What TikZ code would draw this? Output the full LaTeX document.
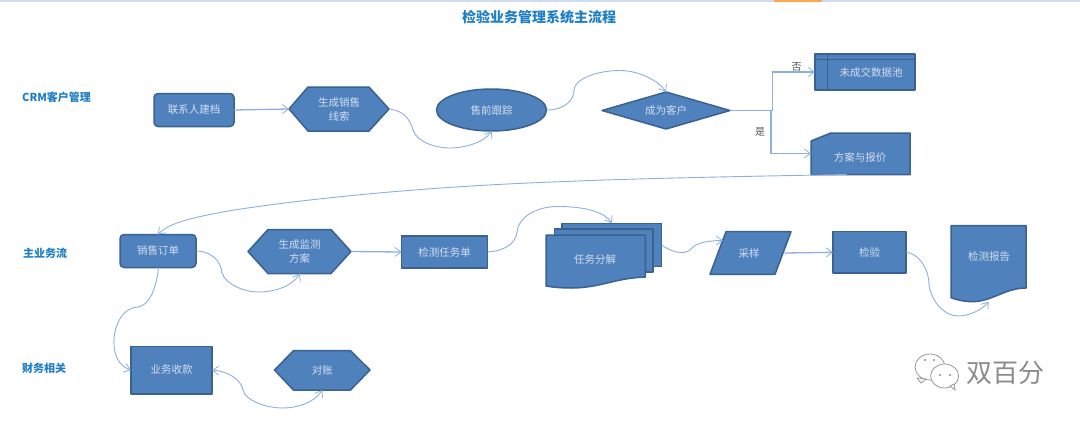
\documentclass[tikz,border=0pt]{standalone}
\usepackage{fontspec}
\setmainfont{Noto Sans CJK SC}
\usetikzlibrary{arrows.meta,shapes.geometric,calc}
\definecolor{shapefill}{HTML}{4F81BD}
\definecolor{shapeline}{HTML}{3A6291}
\definecolor{conn}{HTML}{8DB0DC}
\definecolor{headcol}{HTML}{1F7FC6}
\definecolor{labtxt}{HTML}{D3DEEE}
\definecolor{strip}{HTML}{CFDCEC}
\tikzset{
  fillshape/.style={fill=shapefill,draw=shapeline,line width=1.5pt,line join=round},
  txt/.style={text=labtxt,font=\fontsize{10.5}{14}\selectfont,align=center,inner sep=0pt,outer sep=0pt},
  box/.style={txt,fillshape,rectangle},
  holder/.style={rectangle,inner sep=0pt,outer sep=0pt},
  conline/.style={draw=conn,line width=0.9pt,-{Straight Barb[length=6pt,width=9pt,line width=0.8pt]}},
  elbow/.style={conline,line width=1.2pt},
  straightcon/.style={conline,line width=1.3pt},
  section/.style={text=headcol,font=\bfseries\fontsize{11}{14}\selectfont,inner sep=0pt,anchor=west},
  note/.style={text=black!65,font=\fontsize{10}{12}\selectfont,inner sep=0pt},
  bubble/.style={fill=white,draw=black!40,line width=0.8pt},
  eye/.style={fill=black!45,circle,inner sep=0pt,minimum size=2.4pt}
}
\begin{document}
\begin{tikzpicture}[x=1pt,y=-1pt]
\useasboundingbox (0,0) rectangle (1080,421);
\fill[white] (0,0) rectangle (1080,421);
% top strip
\fill[strip] (0,0) rectangle (1080,1.5);
\fill[orange!70] (774,0) rectangle (822,1.5);
% titles
\node[text=headcol,font=\bfseries\fontsize{14}{16}\selectfont,inner sep=0pt] (title) at (539,17) {检验业务管理系统主流程};
\node[section] (s1) at (22,97) {CRM客户管理};
\node[section] (s2) at (23,253) {主业务流};
\node[section] (s3) at (22,368) {财务相关};
% row 1
\node[box,rounded corners=4pt,minimum width=80pt,minimum height=33pt] (lianxi) at (194,110) {联系人建档};
\path[fillshape] (289,109)--(308,87)--(369,87)--(389,109)--(369,131)--(308,131)--cycle;
\node[holder,txt,minimum width=100pt,minimum height=44pt] (xiansuo) at (339,109) {生成销售\\线索};
\node[box,ellipse,minimum width=110pt,minimum height=42pt] (genzong) at (491.5,110) {售前跟踪};
\node[box,diamond,aspect=3.4,minimum width=128pt,minimum height=37pt] (kehu) at (666,110.5) {成为客户};
\path[fillshape] (815,54) rectangle (915,90);
\draw[shapeline,line width=1.3pt] (827.5,54)--(827.5,90) (815,59.5)--(915,59.5);
\node[holder,txt,minimum width=100pt,minimum height=36pt] (chi) at (865,72) {\hspace{12pt}未成交数据池};
\path[fillshape] (811,141)--(831,133)--(910,133)--(910,174.5)--(811,174.5)--cycle;
\node[holder,minimum width=99pt,minimum height=41.5pt] (baojia) at (860.5,153.75) {};
\node[txt] (baojiatxt) at (860,158) {方案与报价};
% row 2
\node[box,rounded corners=4pt,minimum width=76pt,minimum height=33pt] (dingdan) at (158,251) {销售订单};
\path[fillshape] (248,251.5)--(268,229.5)--(331,229.5)--(351,251.5)--(331,273.5)--(268,273.5)--cycle;
\node[holder,txt,minimum width=103pt,minimum height=44pt] (fangan) at (299.5,251.5) {生成监测\\方案};
\node[box,minimum width=86pt,minimum height=32pt] (renwu) at (444.5,252) {检测任务单};
\path[fillshape] (562,223.3) rectangle (661.6,266.7);
\path[fillshape] (554.5,229) rectangle (653,272);
\path[fillshape] (546,235)--(645.4,235)--(645.4,277) .. controls (615,278) and (600,288) .. (571,288) .. controls (560,288) and (552,287) .. (546,286)--cycle;
\node[holder,minimum width=115.6pt,minimum height=53pt] (fenjie) at (603.8,249.8) {};
\node[txt] (fenjietxt) at (595,260) {任务分解};
\path[fillshape] (726,231.7)--(791,231.7)--(775,274.3)--(710,274.3)--cycle;
\node[holder,minimum width=81pt,minimum height=42.6pt] (caiyang) at (750.5,253) {};
\node[txt] (caiyangtxt) at (749,253) {采样};
\node[box,minimum width=73pt,minimum height=41.5pt] (jianyan) at (869.5,252.3) {检验};
\path[fillshape] (951,225.7)--(1026,225.7)--(1026,288) .. controls (1005,288) and (992,301.7) .. (972,301.7) .. controls (965,301.7) and (957,300) .. (951,297.7)--cycle;
\node[holder,minimum width=75pt,minimum height=76pt] (baogao) at (988.5,263.7) {};
\node[txt] (baogaotxt) at (989,257) {检测报告};
% row 3
\node[box,minimum width=81pt,minimum height=47.5pt] (shoukuan) at (171.5,370) {业务收款};
\path[fillshape] (274.5,370)--(293.4,350.7)--(350.5,350.7)--(370,370)--(350.5,390)--(293.4,390)--cycle;
\node[holder,txt,minimum width=95.5pt,minimum height=39.3pt] (duizhang) at (322.25,370.35) {对账};
% yes/no
\node[note] (fou) at (796.5,67) {否};
\node[note] (shi) at (760,132) {是};
% connectors
\draw[straightcon] (lianxi.east) -- (xiansuo.west);
\draw[conline] (xiansuo.east) .. controls (405,111) and (410,120) .. (413,130) .. controls (417,142) and (435,148) .. (450,148) .. controls (465,148) and (485,142) .. (genzong.south);
\draw[conline] (genzong.east) .. controls (565,110) and (574,100) .. (574,90) .. controls (574,80) and (595,70.5) .. (620,70.5) .. controls (640,70.5) and (660,82) .. (kehu.north);
\draw[elbow] (kehu.east) -- (772.5,110.5) -- (772.5,72) -- (chi.west |- 0,72);
\draw[elbow] (kehu.east) -- (771,110.5) -- (771,153.5) -- (baojia.west |- 0,153.5);
\draw[conline] ([xshift=-14pt]baojia.south) .. controls (650,178) and (600,180) .. (540,182.5) .. controls (430,187) and (320,197) .. (234,210) .. controls (195,217) and (170,222) .. (dingdan.north);
\draw[conline] (dingdan.east) .. controls (210,251) and (221,260) .. (222,273) .. controls (226,285) and (245,292) .. (258,292) .. controls (275,292) and (293,286) .. (fangan.south);
\draw[straightcon] (fangan.east) -- (renwu.west);
\draw[conline] (renwu.east) .. controls (505,251) and (516,243) .. (517,232) .. controls (518,218) and (535,206.5) .. (558,206.5) .. controls (585,206.5) and (605,212) .. ([xshift=7.8pt]fenjie.north);
\draw[conline] ([yshift=5pt]fenjie.east) .. controls (675,255) and (688,254) .. (692,248) .. controls (697,242) and (712,240.5) .. (723,240.5);
\draw[straightcon] ([xshift=34pt]caiyang.center) -- (jianyan.west);
\draw[conline] (jianyan.east) .. controls (918,253) and (929,268) .. (929,285) .. controls (932,303) and (945,316) .. (958,316) .. controls (970,316) and (983,309) .. (baogao.south);
\draw[conline] ([xshift=0.5pt]dingdan.south) .. controls (157,285) and (150,306) .. (138,307) .. controls (120,308) and (113,330) .. (114,345) .. controls (115,360) and (122,367) .. (shoukuan.west);
\draw[conline,{Straight Barb[length=6pt,width=9pt,line width=0.8pt]}-{Straight Barb[length=6pt,width=9pt,line width=0.8pt]}] (duizhang.south) .. controls (315,402) and (298,408) .. (283,408) .. controls (265,408) and (245,400) .. (243,390) .. controls (241,378) and (225,371) .. (shoukuan.east);
% watermark
\path[bubble] (930,367) ellipse (15 and 13);
\path[bubble] (917,378)--(921,383)--(926,379)--cycle;
\path[bubble] (944.6,376) ellipse (14 and 12);
\path[bubble] (950,386)--(955,390)--(954,384)--cycle;
\node[eye] (e1) at (925,360) {};
\node[eye] (e2) at (934,360) {};
\node[eye] (e3) at (940,375) {};
\node[eye] (e4) at (950,375) {};
\node[text=black!45,font=\fontsize{26}{30}\selectfont,inner sep=0pt] (mark) at (1005,373) {双百分};
\end{tikzpicture}
\end{document}
